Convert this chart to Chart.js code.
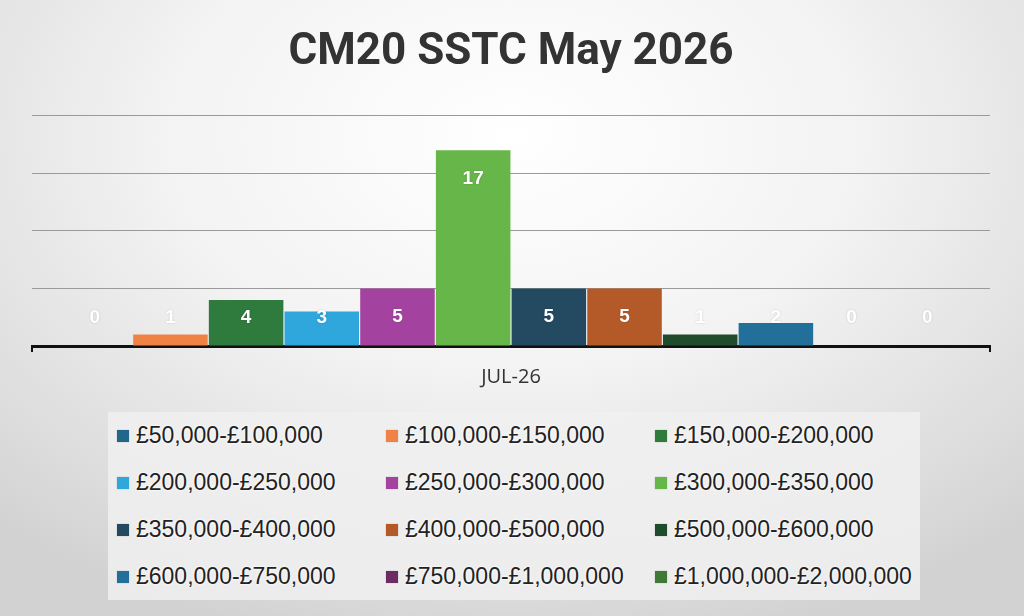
<!DOCTYPE html>
<html>
<head>
<meta charset="utf-8">
<script src="https://cdn.jsdelivr.net/npm/chart.js@4.4.1/dist/chart.umd.min.js"></script>
<style>
  html, body { margin:0; padding:0; }
  body {
    width:1024px; height:616px; overflow:hidden; position:relative;
    background: radial-gradient(ellipse 75% 85% at 50% 22%, #ffffff 0%, #f3f3f3 45%, #dcdcdc 85%, #d2d2d2 100%);
    font-family: "Liberation Sans", Arial, sans-serif;
  }
  #wrap { position:absolute; left:0; top:0; width:1024px; height:414px; }
  #legend {
    position:absolute; left:108px; top:412px; width:812px; height:188px;
    background: rgba(240,240,240,0.85);
    box-sizing:border-box; padding:0 0 0 9px;
    display:grid; grid-template-columns: 269px 269px 265px; grid-auto-rows:47px;
    align-content:center;
  }
  .item { display:flex; align-items:center; white-space:nowrap; font-size:23px; color:#222;
    text-shadow: 0 0 2px #fff, 0 0 3px #fff; }
  .sw { width:12px; height:12px; margin-right:7px; flex:none; box-shadow:0 0 1px rgba(0,0,0,0.3); }
</style>
</head>
<body>
<div id="wrap"><canvas id="c"></canvas></div>
<div id="legend"></div>
<script>
const categories = ["JUL-26"];
const seriesNames = [
  "£50,000-£100,000", "£100,000-£150,000", "£150,000-£200,000",
  "£200,000-£250,000", "£250,000-£300,000", "£300,000-£350,000",
  "£350,000-£400,000", "£400,000-£500,000", "£500,000-£600,000",
  "£600,000-£750,000", "£750,000-£1,000,000", "£1,000,000-£2,000,000"
];
const seriesValues = [0, 1, 4, 3, 5, 17, 5, 5, 1, 2, 0, 0];
const seriesColors = [
  "#22668c", "#ef8244", "#2f7a3d", "#2fa6dc", "#a4439f", "#67b649",
  "#234a60", "#b45a29", "#1f4d2b", "#22709a", "#6b2c63", "#3e7a35"
];
const yTicks = [0, 5, 10, 15, 20];

const datasets = seriesNames.map((n, i) => ({
  label: n,
  data: [seriesValues[i]],
  backgroundColor: seriesColors[i],
  borderWidth: 0
}));

const valueLabels = {
  id: 'valueLabels',
  afterDatasetsDraw(chart) {
    const ctx = chart.ctx;
    ctx.save();
    ctx.font = 'bold 19px "Liberation Sans", Arial, sans-serif';
    ctx.fillStyle = '#ffffff';
    ctx.textAlign = 'center';
    ctx.textBaseline = 'middle';
    ctx.shadowColor = 'rgba(0,0,0,0.18)';
    ctx.shadowBlur = 2;
    chart.data.datasets.forEach((ds, i) => {
      const meta = chart.getDatasetMeta(i);
      meta.data.forEach((el, j) => {
        const y = Math.min(el.y + 28, el.base - 28);
        ctx.fillText(String(ds.data[j]), el.x, y);
      });
    });
    ctx.restore();
  }
};

const canvas = document.getElementById('c');
canvas.width = 1024; canvas.height = 409;
new Chart(canvas, {
  type: 'bar',
  data: { labels: categories, datasets },
  options: {
    responsive: false,
    animation: false,
    devicePixelRatio: 1,
    layout: { padding: { left: 32, right: 34, top: 0, bottom: 7 } },
    categoryPercentage: 0.948,
    barPercentage: 0.985,
    plugins: {
      legend: { display: false },
      tooltip: { enabled: false },
      title: {
        display: true,
        text: 'CM20 SSTC May 2026',
        color: '#333333',
        font: { family: 'Roboto, Inter, sans-serif', size: 44, weight: 'bold' },
        padding: { top: 27, bottom: 36 }
      }
    },
    scales: {
      x: {
        grid: { display: true, drawOnChartArea: false, drawTicks: true, tickLength: 6, color: '#111', lineWidth: 2, offset: true },
        border: { display: true, color: '#111', width: 3 },
        ticks: { color: '#333', padding: 13, font: { family: '"Open Sans", sans-serif', size: 20 } }
      },
      y: {
        min: yTicks[0], max: yTicks[yTicks.length - 1],
        afterBuildTicks(scale) { scale.ticks = yTicks.map(v => ({ value: v })); },
        ticks: { display: false },
        grid: { color: '#9a9a9a', lineWidth: 1, drawTicks: false },
        border: { display: false }
      }
    }
  },
  plugins: [valueLabels]
});

const leg = document.getElementById('legend');
seriesNames.forEach((n, i) => {
  const d = document.createElement('div');
  d.className = 'item';
  d.innerHTML = '<span class="sw" style="background:' + seriesColors[i] + '"></span><span></span>';
  d.lastChild.textContent = n;
  leg.appendChild(d);
});
</script>
</body>
</html>
